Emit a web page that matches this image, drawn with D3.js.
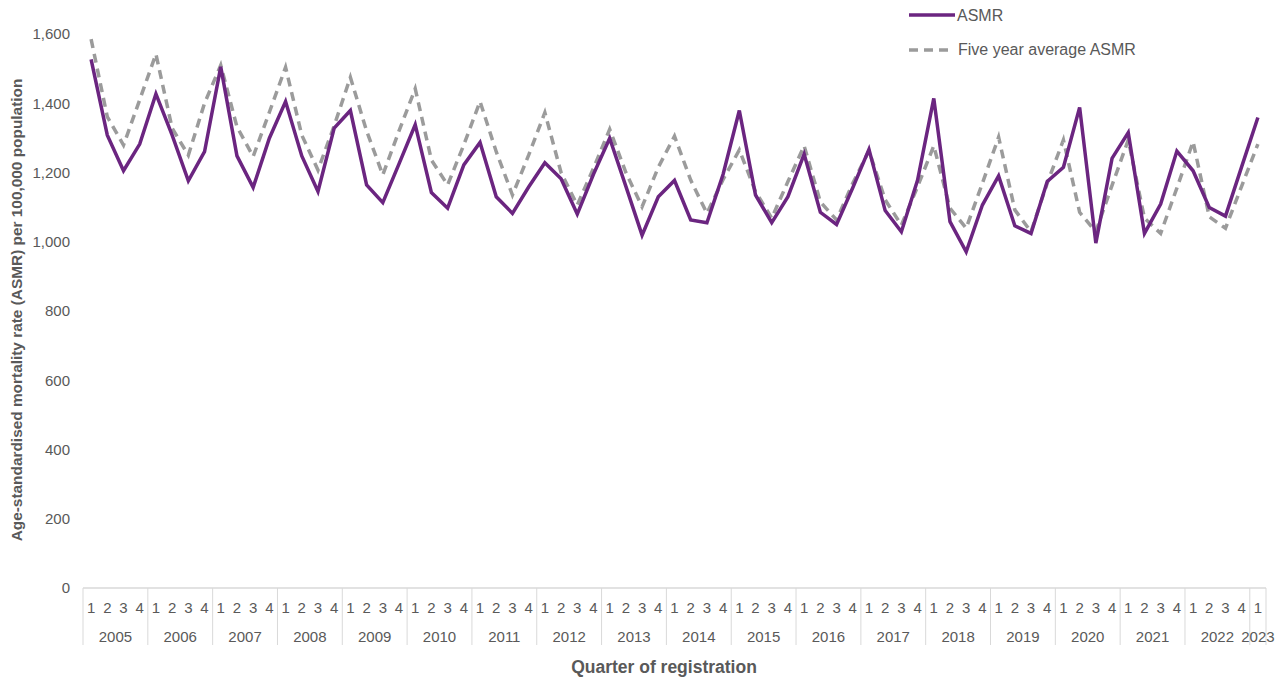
<!DOCTYPE html>
<html>
<head>
<meta charset="utf-8">
<script src="https://cdn.jsdelivr.net/npm/d3@7"></script>
<style>
  body { margin: 0; background: #fff; }
  text { font-family: "Liberation Sans", Arial, sans-serif; fill: #595959; }
</style>
</head>
<body>
<div id="chart"></div>
<script>
// Years and quarters (2005 Q1 to 2023 Q1)
const years = d3.range(2005, 2024);
const quarters = [1, 2, 3, 4];

// ASMR per 100,000 population, one value per quarter
const asmr = [
  1527, 1308, 1205, 1282,
  1427, 1308, 1176, 1260,
  1505, 1248, 1157, 1299,
  1405, 1248, 1145, 1328,
  1379, 1164, 1113, 1225,
  1338, 1142, 1097, 1222,
  1287, 1130, 1082, 1158,
  1228, 1182, 1080, 1195,
  1299, 1160, 1019, 1130,
  1177, 1063, 1055, 1195,
  1379, 1135, 1055, 1130,
  1253, 1085, 1050, 1156,
  1267, 1090, 1029, 1178,
  1414, 1058, 971, 1106,
  1190, 1046, 1024, 1174,
  1215, 1388, 996, 1241,
  1315, 1024, 1109, 1262,
  1205, 1099, 1074, 1217,
  1359
];

// Five year average ASMR
const fiveYear = [
  1585, 1361, 1279, 1410,
  1542, 1328, 1250, 1400,
  1510, 1332, 1246, 1374,
  1504, 1308, 1207, 1335,
  1475, 1320, 1193, 1320,
  1442, 1236, 1164, 1280,
  1405, 1260, 1135, 1250,
  1373, 1200, 1106, 1212,
  1325, 1200, 1101, 1215,
  1305, 1178, 1082, 1180,
  1265, 1145, 1068, 1174,
  1277, 1115, 1063, 1169,
  1263, 1121, 1048, 1159,
  1277, 1097, 1039, 1169,
  1302, 1092, 1029, 1169,
  1294, 1085, 1029, 1163,
  1294, 1068, 1024, 1155,
  1289, 1072, 1039, 1161,
  1282
];

const yTicks = [0, 200, 400, 600, 800, 1000, 1200, 1400, 1600];

// build the period list from years and quarters
const periods = [];
years.forEach(y => quarters.forEach(q => {
  if (periods.length < asmr.length) periods.push({ year: y, q: q, key: y + "Q" + q });
}));

const width = 1285, height = 679;
const svg = d3.select("#chart").append("svg")
  .attr("width", width)
  .attr("height", height);

const x = d3.scaleBand()
  .domain(periods.map(d => d.key))
  .range([83, 1266]);

const y = d3.scaleLinear()
  .domain([0, 1600])
  .range([588, 34]);

const cx = d => x(d) + x.bandwidth() / 2;

// y axis labels
svg.append("g").selectAll("text")
  .data(yTicks)
  .join("text")
    .attr("x", 70)
    .attr("y", d => y(d))
    .attr("dy", "0.35em")
    .attr("text-anchor", "end")
    .style("font-size", "15px")
    .text(d => d3.format(",")(d));

// x axis: baseline and year dividers
const axis = svg.append("g");
axis.append("line")
  .attr("x1", 83).attr("x2", 1266)
  .attr("y1", 588).attr("y2", 588)
  .attr("stroke", "#d9d9d9").attr("stroke-width", 1.5);

const yearStarts = years.map(yr => periods.find(p => p.year === yr));
const edges = yearStarts.map(p => x(p.key)).concat([x.range()[1]]);
axis.selectAll(".div")
  .data(edges)
  .join("line")
    .attr("x1", d => d).attr("x2", d => d)
    .attr("y1", 588).attr("y2", 645)
    .attr("stroke", "#d9d9d9").attr("stroke-width", 1);

// quarter labels
axis.selectAll(".q")
  .data(periods)
  .join("text")
    .attr("x", d => cx(d.key))
    .attr("y", 613)
    .attr("text-anchor", "middle")
    .style("font-size", "15px")
    .text(d => d.q);

// year labels
axis.selectAll(".yr")
  .data(years)
  .join("text")
    .attr("x", (d, i) => (edges[i] + edges[i + 1]) / 2)
    .attr("y", 642)
    .attr("text-anchor", "middle")
    .style("font-size", "15px")
    .text(d => d);

// axis titles
svg.append("text")
  .attr("x", 664)
  .attr("y", 673)
  .attr("text-anchor", "middle")
  .style("font-size", "17.5px")
  .style("font-weight", "bold")
  .text("Quarter of registration");

svg.append("text")
  .attr("transform", "translate(22,310) rotate(-90)")
  .attr("text-anchor", "middle")
  .style("font-size", "15.4px")
  .style("font-weight", "bold")
  .text("Age-standardised mortality rate (ASMR) per 100,000 population");

// lines
const line = d3.line()
  .x((d, i) => cx(periods[i].key))
  .y(d => y(d));

svg.append("path")
  .datum(fiveYear)
  .attr("fill", "none")
  .attr("stroke", "#9b9b9b")
  .attr("stroke-width", 3.5)
  .attr("stroke-dasharray", "9,6")
  .attr("d", line);

svg.append("path")
  .datum(asmr)
  .attr("fill", "none")
  .attr("stroke", "#6b2580")
  .attr("stroke-width", 3.5)
  .attr("stroke-linejoin", "miter")
  .attr("d", line);

// legend
const legend = svg.append("g");
legend.append("line")
  .attr("x1", 909).attr("x2", 955)
  .attr("y1", 15).attr("y2", 15)
  .attr("stroke", "#6b2580").attr("stroke-width", 3.5);
legend.append("text")
  .attr("x", 957).attr("y", 15).attr("dy", "0.35em")
  .style("font-size", "16px")
  .text("ASMR");
legend.append("line")
  .attr("x1", 909).attr("x2", 951)
  .attr("y1", 50).attr("y2", 50)
  .attr("stroke", "#9b9b9b").attr("stroke-width", 3.5)
  .attr("stroke-dasharray", "9,6");
legend.append("text")
  .attr("x", 958).attr("y", 49).attr("dy", "0.35em")
  .style("font-size", "16px")
  .text("Five year average ASMR");
</script>
</body>
</html>
